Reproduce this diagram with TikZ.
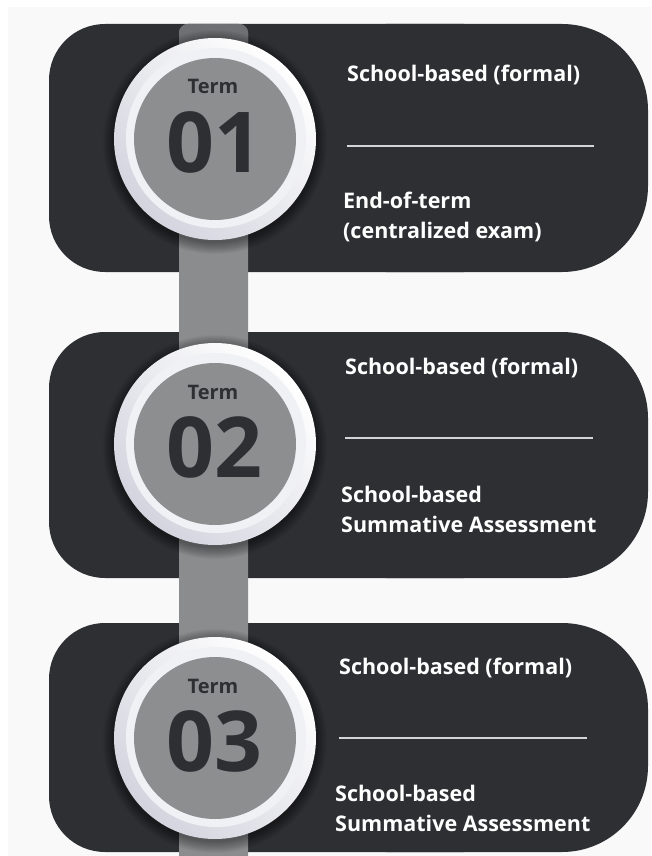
\documentclass[tikz,border=0pt]{standalone}
\usepackage{fontspec}
\setmainfont{Open Sans}
\definecolor{bgc}{HTML}{F9F9F9}
\definecolor{boxdark}{HTML}{2E2F33}
\definecolor{barc}{HTML}{8B8C8E}
\definecolor{bartop}{HTML}{6F7073}
\definecolor{innerg}{HTML}{8D8E90}
\definecolor{ringdark}{HTML}{D3D4DE}
\definecolor{ringmid}{HTML}{F0F1F5}
\definecolor{numc}{HTML}{2E2F33}
\definecolor{sepc}{HTML}{D4D5D7}
\begin{document}
\begin{tikzpicture}[x=1pt,y=-1pt,
  boxshape/.style={fill=boxdark},
  sepline/.style={draw=sepc, line width=2pt},
  wtext/.style={text=white, anchor=base west, inner sep=0pt, align=left,
    font=\bfseries\fontsize{21.5}{30}\selectfont},
  termtext/.style={text=numc, anchor=base, inner sep=0pt, font=\bfseries\fontsize{20}{20}\selectfont},
  numtext/.style={text=numc, anchor=base, inner sep=0pt, font=\bfseries\fontsize{84}{84}\selectfont},
  disc/.style={circle, fill=innerg, minimum size=162pt, inner sep=0pt}]
\useasboundingbox (0,0) rectangle (651,856);
\begin{scope}
\clip (0,0) rectangle (651,856);
\fill[white] (0,0) rectangle (651,856);
\fill[bgc] (8,7) rectangle (651,856);
% boxes
\foreach \t/\b in {24/272, 332/578, 623/852} {
  \fill[boxshape, rounded corners=56pt] (49,\t) rectangle (520,\b);
  \fill[boxshape, rounded corners=86pt] (300,\t) rectangle (648,\b);
}
% bar
\coordinate (bartopc) at (213.5,24);
\coordinate (barbotc) at (213.5,870);
\fill[barc, rounded corners=9pt] ([xshift=-34.5pt]bartopc) rectangle ([xshift=34.5pt]barbotc);
\fill[bartop, rounded corners=9pt] ([xshift=-34.5pt]bartopc) rectangle ([xshift=34.5pt,yshift=-30pt]bartopc);
% circles
\foreach \cy/\n in {139/1, 444/2, 738/3} {
  \foreach \k in {1,...,12} {
    \fill[black, opacity=0.035] (215,\cy+3) circle (100pt+\k pt);
  }
  \shade[top color=white, bottom color=ringdark, shading angle=-45] (215,\cy) circle (101pt);
  \fill[ringmid] (216,\cy-1) circle (90pt);
  \node[disc] (c\n) at (215,\cy) {};
  \node[termtext] (term\n) at (213,\cy-45) {Term};
  \node[numtext] (num\n) at (214,\cy+33) {0\n};
}
% texts box 1
\node[wtext] (f1) at (347,82) {School-based (formal)};
\coordinate (l1a) at (347,146); \coordinate (l1b) at (594,146);
\draw[sepline] (l1a) -- (l1b);
\node[wtext] (e1) at (343,238) {End-of-term\\(centralized exam)};
% texts box 2
\node[wtext] (f2) at (345,374) {School-based (formal)};
\coordinate (l2a) at (345,438); \coordinate (l2b) at (593,438);
\draw[sepline] (l2a) -- (l2b);
\node[wtext] (e2) at (341,532) {School-based\\Summative Assessment};
% texts box 3
\node[wtext] (f3) at (339,674) {School-based (formal)};
\coordinate (l3a) at (339,738); \coordinate (l3b) at (587,738);
\draw[sepline] (l3a) -- (l3b);
\node[wtext] (e3) at (335,831) {School-based\\Summative Assessment};
\end{scope}
\end{tikzpicture}
\end{document}
